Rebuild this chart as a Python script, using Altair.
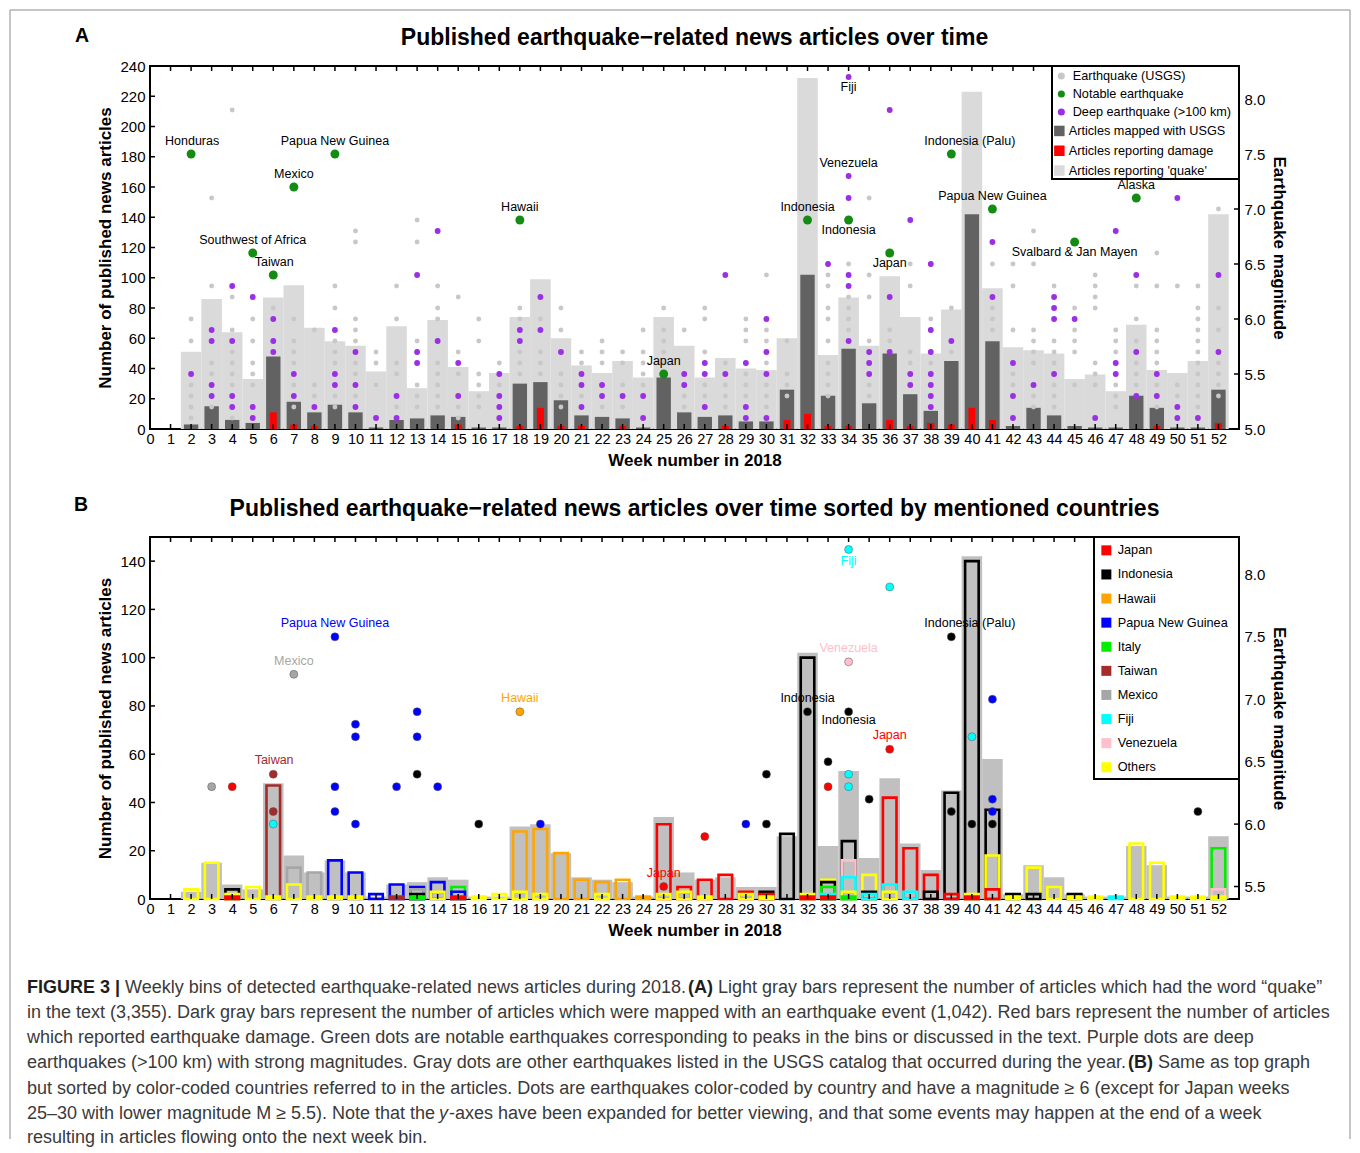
import altair as alt
import pandas as pd

FONT = "Liberation Sans"

# ---------------- Panel A values ----------------
weeks = list(range(1, 53))
quake_articles = [0, 51, 86, 64, 33, 87, 95, 67, 58, 55, 38, 68, 27, 72, 41, 25, 37, 74, 99, 60,
                  42, 37, 45, 34, 74, 55, 34, 47, 40, 39, 60, 232, 49, 87, 55, 101, 74, 50, 79, 223,
                  93, 54, 52, 50, 33, 36, 25, 69, 39, 37, 45, 142]
mapped_articles = [0, 3, 15, 6, 4, 48, 18, 11, 16, 11, 1, 6, 7, 9, 8, 1, 1, 30, 31, 19,
                   9, 8, 7, 1, 34, 11, 8, 9, 5, 5, 26, 102, 22, 53, 17, 50, 23, 12, 45, 142,
                   58, 2, 14, 9, 2, 1, 1, 22, 14, 1, 1, 26]
damage_weeks = [6, 7, 8, 15, 18, 19, 20, 21, 23, 28, 31, 32, 33, 34, 36, 37, 38, 39, 40, 41, 49, 52]
damage_articles = [11, 3, 2, 3, 2, 14, 2, 2, 2, 2, 6, 10, 2, 2, 6, 2, 4, 3, 14, 6, 2, 4]

usgs_mags = [
    [], [6.0, 5.8, 5.4, 5.3, 5.2, 5.1], [7.1, 6.3, 5.6, 5.5, 5.2], [7.9, 6.2, 5.9, 5.7, 5.6, 5.5, 5.4, 5.1],
    [6.0, 5.8, 5.6, 5.5, 5.4], [6.1], [6.0, 5.8, 5.7, 5.6, 5.4, 5.2], [5.9, 5.4, 5.3],
    [6.3, 6.1, 5.8, 5.7, 5.6, 5.3, 5.2], [6.8, 6.7, 6.0, 5.9, 5.8, 5.6, 5.5, 5.3], [5.7, 5.6, 5.4],
    [6.3, 6.0, 5.6, 5.5, 5.2], [6.9, 6.7, 5.8, 5.4, 5.3, 5.2], [6.3, 6.1, 6.0, 5.6, 5.5, 5.4, 5.3, 5.2],
    [6.2, 5.7, 5.5, 5.2, 5.1], [6.0, 5.8, 5.5, 5.4, 5.3, 5.2], [5.6, 5.4], [6.1, 6.0, 5.7, 5.6, 5.5],
    [6.0, 5.7, 5.6, 5.5], [6.1, 5.9, 5.5, 5.4, 5.3, 5.2], [5.7, 5.6, 5.3], [5.8, 5.7, 5.6, 5.2],
    [5.7, 5.6, 5.4, 5.2], [5.9, 5.7, 5.6, 5.5, 5.4], [6.1, 5.9, 5.8, 5.7, 5.6], [5.9, 5.3, 5.2],
    [6.1, 6.0, 5.7, 5.4, 5.3], [5.6, 5.4, 5.3, 5.2], [6.0, 5.9, 5.8, 5.5, 5.4, 5.3],
    [6.4, 5.9, 5.8, 5.6, 5.4, 5.3, 5.2], [5.8, 5.5, 5.4, 5.3], [],
    [6.4, 6.3, 6.1, 6.0, 5.8, 5.6, 5.5, 5.4, 5.3], [6.5, 6.2, 6.1, 6.0, 5.9], [7.1, 6.4, 6.2, 5.8, 5.4, 5.3],
    [5.9, 5.8], [6.5, 6.3, 5.7, 5.6], [6.0, 5.6], [6.1, 5.7], [], [6.5, 6.1, 6.0, 5.9],
    [6.5, 6.3, 5.9, 5.5, 5.4], [6.8, 6.5, 5.9, 5.8, 5.7, 5.6, 5.3, 5.2], [6.3, 5.8, 5.7, 5.6, 5.4, 5.3, 5.2],
    [6.1, 5.9, 5.8, 5.7, 5.4], [6.4, 6.3, 6.2, 6.1, 5.6, 5.5, 5.4], [5.9, 5.8, 5.7, 5.4, 5.3, 5.2],
    [6.3, 6.0, 5.8, 5.6, 5.5, 5.4], [6.6, 6.3, 5.9, 5.8, 5.7, 5.6, 5.4, 5.2], [6.3, 5.4, 5.3],
    [6.3, 6.1, 6.0, 5.9, 5.8, 5.7, 5.6, 5.5, 5.4, 5.3, 5.2], [7.0, 6.1, 5.9, 5.6, 5.5, 5.4, 5.3],
]
deep_mags = [
    [], [5.5], [5.9, 5.8, 5.4, 5.3], [6.3, 5.8, 5.3, 5.2], [6.2, 5.2, 5.1], [6.0, 5.8, 5.7], [5.5, 5.3],
    [5.2], [5.9, 5.5, 5.4], [5.7, 5.4, 5.2], [5.1], [5.3, 5.1], [6.4, 5.7, 5.6], [6.8, 5.8], [5.6, 5.3],
    [], [5.5, 5.3, 5.2, 5.1], [5.9, 5.8], [6.2, 5.9], [5.7], [5.5, 5.4, 5.2], [5.4, 5.3], [5.3],
    [5.3, 5.1], [], [5.5, 5.4], [5.6, 5.5, 5.2], [6.4, 5.5], [5.6, 5.2, 5.1], [6.0, 5.7, 5.5, 5.1],
    [], [], [6.5], [8.2, 7.3, 7.1, 6.4, 6.3, 5.8], [5.7, 5.6, 5.5], [7.9, 6.2, 5.7], [6.9, 5.5, 5.4],
    [6.5, 5.9, 5.7, 5.5, 5.4, 5.3, 5.2], [5.8], [], [6.7, 6.2], [5.6, 5.3, 5.1], [5.4],
    [6.2, 6.1, 6.0, 5.5], [6.0], [5.1], [6.8, 5.6, 5.5], [6.4, 5.7, 5.3], [5.5, 5.3], [7.1, 5.2, 5.1],
    [5.1], [6.4, 5.7],
]
notable_weeks = [2, 5, 6, 7, 9, 18, 25, 32, 34, 36, 39, 41, 45, 48]
notable_mags = [7.5, 6.6, 6.4, 7.2, 7.5, 6.9, 5.5, 6.9, 6.9, 6.6, 7.5, 7.0, 6.7, 7.1]

labelA_text = ["Honduras", "Papua New Guinea", "Mexico", "Southwest of Africa", "Taiwan", "Hawaii",
               "Japan", "Indonesia", "Fiji", "Venezuela", "Indonesia", "Japan", "Indonesia (Palu)",
               "Papua New Guinea", "Alaska", "Svalbard & Jan Mayen"]
labelA_week = [2.05, 9.0, 7.0, 5.0, 6.05, 18.0, 25.0, 32.0, 34.0, 34.0, 34.0, 36.0, 39.9, 41.0, 48.0, 45.0]
labelA_mag = [7.62, 7.62, 7.32, 6.72, 6.52, 7.02, 5.62, 7.02, 8.11, 7.42, 6.81, 6.51, 7.62, 7.12, 7.22, 6.61]

dotA_names = ["Earthquake (USGS)", "Notable earthquake", "Deep earthquake (>100 km)"]
dotA_colors = ["#c8c8c8", "#148c14", "#9a2fe6"]
barA_names = ["Articles mapped with USGS", "Articles reporting damage", "Articles reporting 'quake'"]
barA_colors = ["#626262", "#ff0000", "#dadada"]

# ---------------- Panel B values ----------------
country_names = ["Japan", "Indonesia", "Hawaii", "Papua New Guinea", "Italy", "Taiwan", "Mexico",
                 "Fiji", "Venezuela", "Others"]
country_colors = ["#ff0000", "#000000", "#ffa500", "#0000ff", "#00ee00", "#a52a2a", "#a6a6a6",
                  "#00ffff", "#ffc0cb", "#ffff00"]
country_bars = {
    "Japan": ([4, 15, 25, 26, 27, 28, 29, 30, 32, 33, 36, 37, 38, 39, 40, 41],
              [1, 1, 31, 5, 8, 10, 3, 2, 1, 1, 42, 21, 10, 2, 1, 4]),
    "Indonesia": ([4, 13, 30, 31, 32, 33, 34, 35, 38, 39, 40, 41, 42, 43, 45],
                  [4, 2, 3, 27, 100, 7, 24, 3, 3, 44, 140, 37, 2, 2, 2]),
    "Hawaii": ([18, 19, 20, 21, 22, 23, 24], [28, 29, 19, 8, 7, 8, 1]),
    "Papua New Guinea": ([9, 10, 11, 12, 13, 14, 15], [16, 11, 2, 6, 5, 7, 3]),
    "Italy": ([13, 15, 33, 34, 52], [1, 5, 5, 1, 21]),
    "Taiwan": ([6, 12], [47, 1]),
    "Mexico": ([7, 8, 13], [13, 11, 4]),
    "Fiji": ([33, 34, 35, 36, 37, 47], [2, 9, 2, 6, 3, 1]),
    "Venezuela": ([34, 52], [16, 4]),
    "Others": ([2, 3, 4, 5, 6, 7, 8, 9, 10, 14, 16, 17, 18, 19, 22, 25, 26, 27, 29, 30, 32, 33, 34, 35,
                36, 40, 41, 42, 43, 44, 45, 46, 48, 49, 50, 51, 52],
               [4, 15, 2, 5, 1, 6, 1, 1, 1, 3, 1, 2, 3, 2, 2, 2, 3, 1, 2, 1, 2, 8, 3, 10,
                3, 2, 18, 1, 13, 5, 1, 1, 23, 15, 1, 1, 1]),
}
dotB_week = [3, 4, 6, 6, 6, 7, 9, 9, 9, 10, 10, 10, 12, 13, 13, 13, 14, 16, 18, 19, 25, 27, 29, 30, 30,
             32, 33, 33, 34, 34, 34, 34, 34, 35, 36, 36, 39, 39, 40, 40, 41, 41, 41, 41, 51]
dotB_mag = [6.3, 6.3, 6.4, 6.1, 6.0, 7.2, 7.5, 6.3, 6.1, 6.8, 6.7, 6.0, 6.3, 6.9, 6.7, 6.4, 6.3, 6.0, 6.9,
            6.0, 5.5, 5.9, 6.0, 6.4, 6.0, 6.9, 6.5, 6.3, 8.2, 7.3, 6.9, 6.4, 6.3, 6.2, 7.9, 6.6, 7.5,
            6.1, 6.7, 6.0, 7.0, 6.2, 6.1, 6.0, 6.1]
dotB_country = ["Mexico", "Japan", "Taiwan", "Taiwan", "Fiji", "Mexico", "Papua New Guinea",
                "Papua New Guinea", "Papua New Guinea", "Papua New Guinea", "Papua New Guinea",
                "Papua New Guinea", "Papua New Guinea", "Papua New Guinea", "Papua New Guinea",
                "Indonesia", "Papua New Guinea", "Indonesia", "Hawaii", "Papua New Guinea", "Japan",
                "Japan", "Papua New Guinea", "Indonesia", "Indonesia", "Indonesia", "Indonesia", "Japan",
                "Fiji", "Venezuela", "Indonesia", "Fiji", "Fiji", "Indonesia", "Fiji", "Japan",
                "Indonesia", "Indonesia", "Fiji", "Indonesia", "Papua New Guinea", "Papua New Guinea",
                "Papua New Guinea", "Indonesia", "Indonesia"]
labelB_text = ["Papua New Guinea", "Mexico", "Taiwan", "Hawaii", "Japan", "Indonesia", "Indonesia",
               "Venezuela", "Fiji", "Japan", "Indonesia (Palu)"]
labelB_week = [9.0, 7.0, 6.04, 18.0, 25.0, 32.0, 34.0, 34.0, 34.0, 36.0, 39.9]
labelB_mag = [7.61, 7.31, 6.51, 7.01, 5.61, 7.01, 6.83, 7.41, 8.11, 6.71, 7.61]
labelB_country = ["Papua New Guinea", "Mexico", "Taiwan", "Hawaii", "Japan", "Indonesia", "Indonesia",
                  "Venezuela", "Fiji", "Japan", "Indonesia"]

# ---------------- Caption ----------------
caption_segments = [
    # (text, line, page_x, style)
    ("FIGURE 3 |", 0, 25, "bold"),
    ("Weekly bins of detected earthquake-related news articles during 2018.", 0, 123, "normal"),
    ("(A)", 0, 686, "bold"),
    ("Light gray bars represent the number of articles which had the word \u201cquake\u201d", 0, 716, "normal"),
    ("in the text (3,355). Dark gray bars represent the number of articles which were mapped with an "
     "earthquake event (1,042). Red bars represent the number of articles", 1, 25, "normal"),
    ("which reported earthquake damage. Green dots are notable earthquakes corresponding to peaks in the "
     "bins or discussed in the text. Purple dots are deep", 2, 25, "normal"),
    ("earthquakes (>100 km) with strong magnitudes. Gray dots are other earthquakes listed in the USGS "
     "catalog that occurred during the year.", 3, 25, "normal"),
    ("(B)", 3, 1126, "bold"),
    ("Same as top graph", 3, 1156, "normal"),
    ("but sorted by color-coded countries referred to in the articles. Dots are earthquakes color-coded "
     "by country and have a magnitude \u2265 6 (except for Japan weeks", 4, 25, "normal"),
    ("25\u201330 with lower magnitude M \u2265 5.5). Note that the", 5, 25, "normal"),
    ("y", 5, 437, "italic"),
    ("-axes have been expanded for better viewing, and that some events may happen at the end of a week",
     5, 447, "normal"),
    ("resulting in articles flowing onto the next week bin.", 6, 25, "normal"),
]
caption_line_y = [989, 1014, 1039, 1064, 1090, 1115, 1139]

# ---------------- Layout constants ----------------
W, HA, HB = 1089, 363, 362
GAP = 108                    # vertical distance between stacked plot areas
ORIGIN_X = 148
CAP_TOP = 538 + HB + GAP     # page y of the caption block's origin
BL, BR = -140, 1200          # outer figure border (relative to plot origin)

one = pd.DataFrame({"k": [0]})
color_of = dict(zip(country_names, country_colors))

xscale = alt.Scale(domain=[0, 53], nice=False, zero=False)
xaxis = alt.Axis(values=list(range(0, 53)), title="Week number in 2018", labelFontSize=14.5,
                 titleFontSize=17, titleFontWeight="bold", ticks=False, domain=False, grid=False,
                 labelPadding=3, titlePadding=7, labelFlush=False, labelOverlap=False,
                 labelColor="black", titleColor="black")


def yaxis(orient, values, title, fmt=None, title_pad=5):
    kw = dict(orient=orient, values=values, title=title, labelFontSize=15, titleFontSize=17,
              titleFontWeight="bold", ticks=False, domain=False, grid=False, labelPadding=5,
              titlePadding=title_pad, labelColor="black", titleColor="black", labelOverlap=False)
    if fmt:
        kw["format"] = fmt
    return alt.Axis(**kw)


def text_at(txt, x, y, size, weight="bold"):
    return alt.Chart(one).mark_text(text=txt, fontSize=size, fontWeight=weight, align="center",
                                    baseline="middle", font=FONT, color="black").encode(
        x=alt.value(x), y=alt.value(y))


def vrule(x, top, bottom):
    return alt.Chart(one).mark_rule(color="#8c8c8c", strokeWidth=1).encode(
        x=alt.value(x), y=alt.value(top), y2=alt.value(bottom))


def xticks(h):
    tdf = pd.DataFrame({"w": weeks})
    bottom = alt.Chart(tdf).mark_rule(color="black", strokeWidth=1.5).encode(
        x=alt.X("w:Q", scale=xscale, axis=xaxis), y=alt.value(h), y2=alt.value(h - 5))
    top = alt.Chart(tdf).mark_rule(color="black", strokeWidth=1.5).encode(
        x=alt.X("w:Q", scale=xscale, axis=xaxis), y=alt.value(0), y2=alt.value(5))
    return [bottom, top]


def yticks(values, scale, axis, x0, x1):
    return alt.Chart(pd.DataFrame({"v": values})).mark_rule(color="black", strokeWidth=1.5).encode(
        y=alt.Y("v:Q", scale=scale, axis=axis), x=alt.value(x0), x2=alt.value(x1))


# ====================== Panel A ======================
yA_scale = alt.Scale(domain=[0, 240], nice=False, zero=True)
yA_vals = list(range(0, 241, 20))
yA_axis = yaxis("left", yA_vals, "Number of published news articles")
mA_scale = alt.Scale(domain=[5.0, 8.3], nice=False, zero=False)
mA_vals = [5.0, 5.5, 6.0, 6.5, 7.0, 7.5, 8.0]
mA_axis = yaxis("right", mA_vals, "Earthquake magnitude", fmt=".1f", title_pad=5)

barA_scale = alt.Scale(domain=barA_names, range=barA_colors)
barA_legend = alt.Legend(title=None, orient="none", legendX=903, legendY=58.6, labelFontSize=12.7,
                         labelFont=FONT, labelColor="black", symbolSize=110, symbolType="square",
                         rowPadding=5.8, padding=0, labelOffset=3, labelLimit=400,
                         symbolStrokeWidth=0, symbolOpacity=1)
dotA_scale = alt.Scale(domain=dotA_names, range=dotA_colors)
dotA_legend = alt.Legend(title=None, orient="none", legendX=905, legendY=3.7, labelFontSize=12.7,
                         labelFont=FONT, labelColor="black", symbolSize=50, symbolType="circle",
                         rowPadding=4.0, padding=0, labelOffset=5, labelLimit=400,
                         symbolStrokeWidth=0, symbolOpacity=1)

df_light = pd.DataFrame({"week": weeks, "n": quake_articles, "cat": barA_names[2]})
df_dark = pd.DataFrame({"week": weeks, "n": mapped_articles, "cat": barA_names[0]})
df_red = pd.DataFrame({"week": damage_weeks, "n": damage_articles, "cat": barA_names[1]})


def barA(df, half):
    return alt.Chart(df).mark_bar().transform_calculate(
        x0=f"datum.week - {half}", x1=f"datum.week + {half}").encode(
        x=alt.X("x0:Q", scale=xscale, axis=xaxis), x2="x1:Q",
        y=alt.Y("n:Q", scale=yA_scale, axis=yA_axis), y2=alt.datum(0),
        color=alt.Color("cat:N", scale=barA_scale, legend=barA_legend))


barsA = alt.layer(
    barA(df_light, 0.5), barA(df_dark, 0.35), barA(df_red, 0.17),
    yticks(yA_vals, yA_scale, yA_axis, 0, 5),
    vrule(BL, -56, HA + GAP), vrule(BR, -56, HA + GAP),
    alt.Chart(one).mark_rule(color="#8c8c8c", strokeWidth=1).encode(
        x=alt.value(BL), x2=alt.value(BR), y=alt.value(-56)),
    text_at("A", -68, -30, 19.5),
    text_at("Published earthquake\u2212related news articles over time", W / 2, -28, 23),
)

df_usgs = pd.DataFrame([(w, m) for w, ms in zip(weeks, usgs_mags) for m in ms], columns=["week", "mag"])
df_usgs["cat"] = dotA_names[0]
df_deep = pd.DataFrame([(w, m) for w, ms in zip(weeks, deep_mags) for m in ms], columns=["week", "mag"])
df_deep["cat"] = dotA_names[2]
df_notable = pd.DataFrame({"week": notable_weeks, "mag": notable_mags, "cat": dotA_names[1]})
df_labA = pd.DataFrame({"week": labelA_week, "mag": labelA_mag, "t": labelA_text})


def dotsA(df, size):
    return alt.Chart(df).mark_circle(size=size, opacity=1).encode(
        x=alt.X("week:Q", scale=xscale, axis=xaxis),
        y=alt.Y("mag:Q", scale=mA_scale, axis=mA_axis),
        fill=alt.Fill("cat:N", scale=dotA_scale, legend=dotA_legend))


dotsA_layer = alt.layer(
    dotsA(df_usgs, 24), dotsA(df_deep, 34), dotsA(df_notable, 80),
    alt.Chart(df_labA).mark_text(fontSize=12.5, font=FONT, color="black", baseline="middle").encode(
        x=alt.X("week:Q", scale=xscale, axis=xaxis),
        y=alt.Y("mag:Q", scale=mA_scale, axis=mA_axis), text="t:N"),
    *xticks(HA),
    yticks(mA_vals, mA_scale, mA_axis, W - 5, W),
    alt.Chart(one).mark_rect(fill="white", stroke="black", strokeWidth=2).encode(
        x=alt.value(902), x2=alt.value(W), y=alt.value(0), y2=alt.value(113)),
)

panelA = alt.layer(barsA, dotsA_layer).resolve_scale(y="independent").properties(width=W, height=HA)

# ====================== Panel B ======================
yB_scale = alt.Scale(domain=[0, 150], nice=False, zero=True)
yB_vals = list(range(0, 141, 20))
yB_axis = yaxis("left", yB_vals, "Number of published news articles")
mB_scale = alt.Scale(domain=[5.4, 8.3], nice=False, zero=False)
mB_vals = [5.5, 6.0, 6.5, 7.0, 7.5, 8.0]
mB_axis = yaxis("right", mB_vals, "Earthquake magnitude", fmt=".1f", title_pad=5)

cB_scale = alt.Scale(domain=country_names, range=country_colors)
cB_legend = alt.Legend(title=None, orient="none", legendX=950, legendY=7, labelFontSize=12.7,
                       labelFont=FONT, labelColor="black", symbolSize=100, symbolType="square",
                       rowPadding=10.1, padding=0, labelOffset=5, labelLimit=400,
                       symbolStrokeWidth=0, symbolOpacity=1)

df_grayB = pd.DataFrame({"week": weeks, "n": mapped_articles})
rows = []
for c in country_names:
    ws, ns = country_bars[c]
    rows += [(w, n, c, color_of[c]) for w, n in zip(ws, ns)]
df_country = pd.DataFrame(rows, columns=["week", "n", "country", "col"]).sort_values("n", ascending=False)

barsB = alt.layer(
    alt.Chart(df_grayB).mark_bar(color="#c0c0c0").transform_calculate(
        x0="datum.week - 0.5", x1="datum.week + 0.5").encode(
        x=alt.X("x0:Q", scale=xscale, axis=xaxis), x2="x1:Q",
        y=alt.Y("n:Q", scale=yB_scale, axis=yB_axis), y2=alt.datum(0)),
    alt.Chart(df_country).mark_bar(filled=False, strokeWidth=2.6).transform_calculate(
        x0="datum.week - 0.33", x1="datum.week + 0.33").encode(
        x=alt.X("x0:Q", scale=xscale, axis=xaxis), x2="x1:Q",
        y=alt.Y("n:Q", scale=yB_scale, axis=yB_axis), y2=alt.datum(0),
        stroke=alt.Stroke("col:N", scale=None)),
    yticks(yB_vals, yB_scale, yB_axis, 0, 5),
    vrule(BL, 0, HB + GAP), vrule(BR, 0, HB + GAP),
    text_at("B", -69, -32.5, 19.5),
    text_at("Published earthquake\u2212related news articles over time sorted by mentioned countries",
            W / 2, -28, 23),
)

df_dotB = pd.DataFrame({"week": dotB_week, "mag": dotB_mag, "country": dotB_country})
df_labB = pd.DataFrame({"week": labelB_week, "mag": labelB_mag, "t": labelB_text,
                        "col": [color_of[c] for c in labelB_country]})

dotsB_layer = alt.layer(
    alt.Chart(df_labB).mark_text(fontSize=12.5, font=FONT, baseline="middle").encode(
        x=alt.X("week:Q", scale=xscale, axis=xaxis),
        y=alt.Y("mag:Q", scale=mB_scale, axis=mB_axis), text="t:N",
        color=alt.Color("col:N", scale=None)),
    alt.Chart(df_dotB).mark_circle(size=64, opacity=1, stroke="#555555", strokeWidth=0.5).encode(
        x=alt.X("week:Q", scale=xscale, axis=xaxis),
        y=alt.Y("mag:Q", scale=mB_scale, axis=mB_axis),
        fill=alt.Fill("country:N", scale=cB_scale, legend=cB_legend)),
    *xticks(HB),
    yticks(mB_vals, mB_scale, mB_axis, W - 5, W),
    alt.Chart(one).mark_rect(fill="white", stroke="black", strokeWidth=2).encode(
        x=alt.value(944), x2=alt.value(W), y=alt.value(0), y2=alt.value(242)),
)

panelB = alt.layer(barsB, dotsB_layer).resolve_scale(y="independent").properties(width=W, height=HB)

# ====================== Caption ======================
df_cap = pd.DataFrame([
    {"t": t, "px": x - ORIGIN_X, "py": caption_line_y[ln] - CAP_TOP, "style": st}
    for t, ln, x, st in caption_segments
])


def cap_layer(style, weight, fstyle, color):
    return alt.Chart(df_cap).transform_filter(f"datum.style == '{style}'").mark_text(
        align="left", baseline="middle", fontSize=18, font=FONT, fontWeight=weight,
        fontStyle=fstyle, color=color).encode(
        x=alt.X("px:Q", scale=None), y=alt.Y("py:Q", scale=None), text="t:N")


caption = alt.layer(
    cap_layer("normal", "normal", "normal", "#3a3a3a"),
    cap_layer("bold", "bold", "normal", "#1e1e1e"),
    cap_layer("italic", "normal", "italic", "#3a3a3a"),
    vrule(BL, 0, 132), vrule(BR, 0, 132),
).properties(width=W, height=120, view=alt.ViewBackground(stroke="transparent"))

chart = alt.vconcat(panelA, panelB, caption, spacing=GAP, bounds="flush").resolve_scale(
    color="independent", fill="independent", stroke="independent"
).properties(padding=0).configure(font=FONT).configure_view(stroke="black", strokeWidth=2)

chart.save("out.html", embed_options={"renderer": "svg", "actions": False})
